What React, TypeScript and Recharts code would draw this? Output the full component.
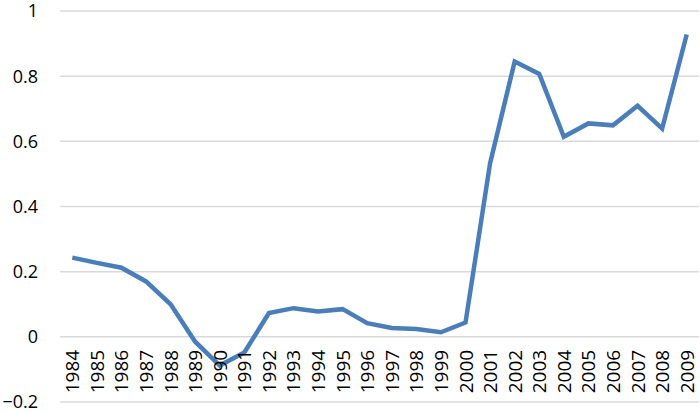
import { LineChart, Line, XAxis, YAxis, CartesianGrid } from "recharts";

const years = [
  "1984", "1985", "1986", "1987", "1988", "1989", "1990", "1991", "1992",
  "1993", "1994", "1995", "1996", "1997", "1998", "1999", "2000", "2001",
  "2002", "2003", "2004", "2005", "2006", "2007", "2008", "2009",
];

const values = [
  0.243, 0.227, 0.212, 0.17, 0.1, -0.015, -0.088, -0.048, 0.073,
  0.088, 0.078, 0.085, 0.042, 0.027, 0.024, 0.014, 0.044, 0.533,
  0.845, 0.807, 0.614, 0.655, 0.649, 0.709, 0.639, 0.928,
];

const yTicks = [-0.2, 0, 0.2, 0.4, 0.6, 0.8, 1];

const data = years.map((year, i) => ({ year, value: values[i] }));

const WIDTH = 700;
const HEIGHT = 414;
const TOP = 11;
const BOTTOM = 11;
const X_AXIS_H = 1;
const plotHeight = HEIGHT - TOP - BOTTOM - X_AXIS_H;
// distance from the bottom of the plot (-0.2) up to the zero line
const zeroOffset = (plotHeight * 0.2) / 1.2;

const font = "Open Sans, sans-serif";

const YearTick = (props: any) => {
  const { x, payload } = props;
  // x-axis sits at the plot bottom; labels hang just under the zero line
  const top = TOP + plotHeight - zeroOffset + 13;
  return (
    <text
      x={x}
      y={top}
      transform={`rotate(-90, ${x}, ${top})`}
      textAnchor="end"
      dominantBaseline="central"
      fill="#000"
      fontSize={19}
      fontFamily={font}
    >
      {payload.value}
    </text>
  );
};

export default function App() {
  return (
    <div style={{ position: "absolute", left: 0, top: 0, background: "#fff" }}>
      <LineChart
        width={WIDTH}
        height={HEIGHT}
        data={data}
        margin={{ top: TOP, right: 1, bottom: BOTTOM, left: 0 }}
      >
        <CartesianGrid vertical={false} stroke="#d9d9d9" strokeWidth={1.5} />
        <XAxis
          dataKey="year"
          scale="band"
          height={X_AXIS_H}
          axisLine={false}
          tickLine={false}
          interval={0}
          tick={YearTick}
        />
        <YAxis
          domain={[-0.2, 1]}
          ticks={yTicks}
          width={60}
          axisLine={false}
          tickLine={false}
          tickMargin={16}
          tickFormatter={(v: number) => String(v).replace("-", "\u2212")}
          tick={{ fill: "#000", fontSize: 18, fontFamily: font }}
        />
        <Line
          dataKey="value"
          stroke="#4a7ebb"
          strokeWidth={4.5}
          dot={false}
          isAnimationActive={false}
        />
      </LineChart>
    </div>
  );
}
